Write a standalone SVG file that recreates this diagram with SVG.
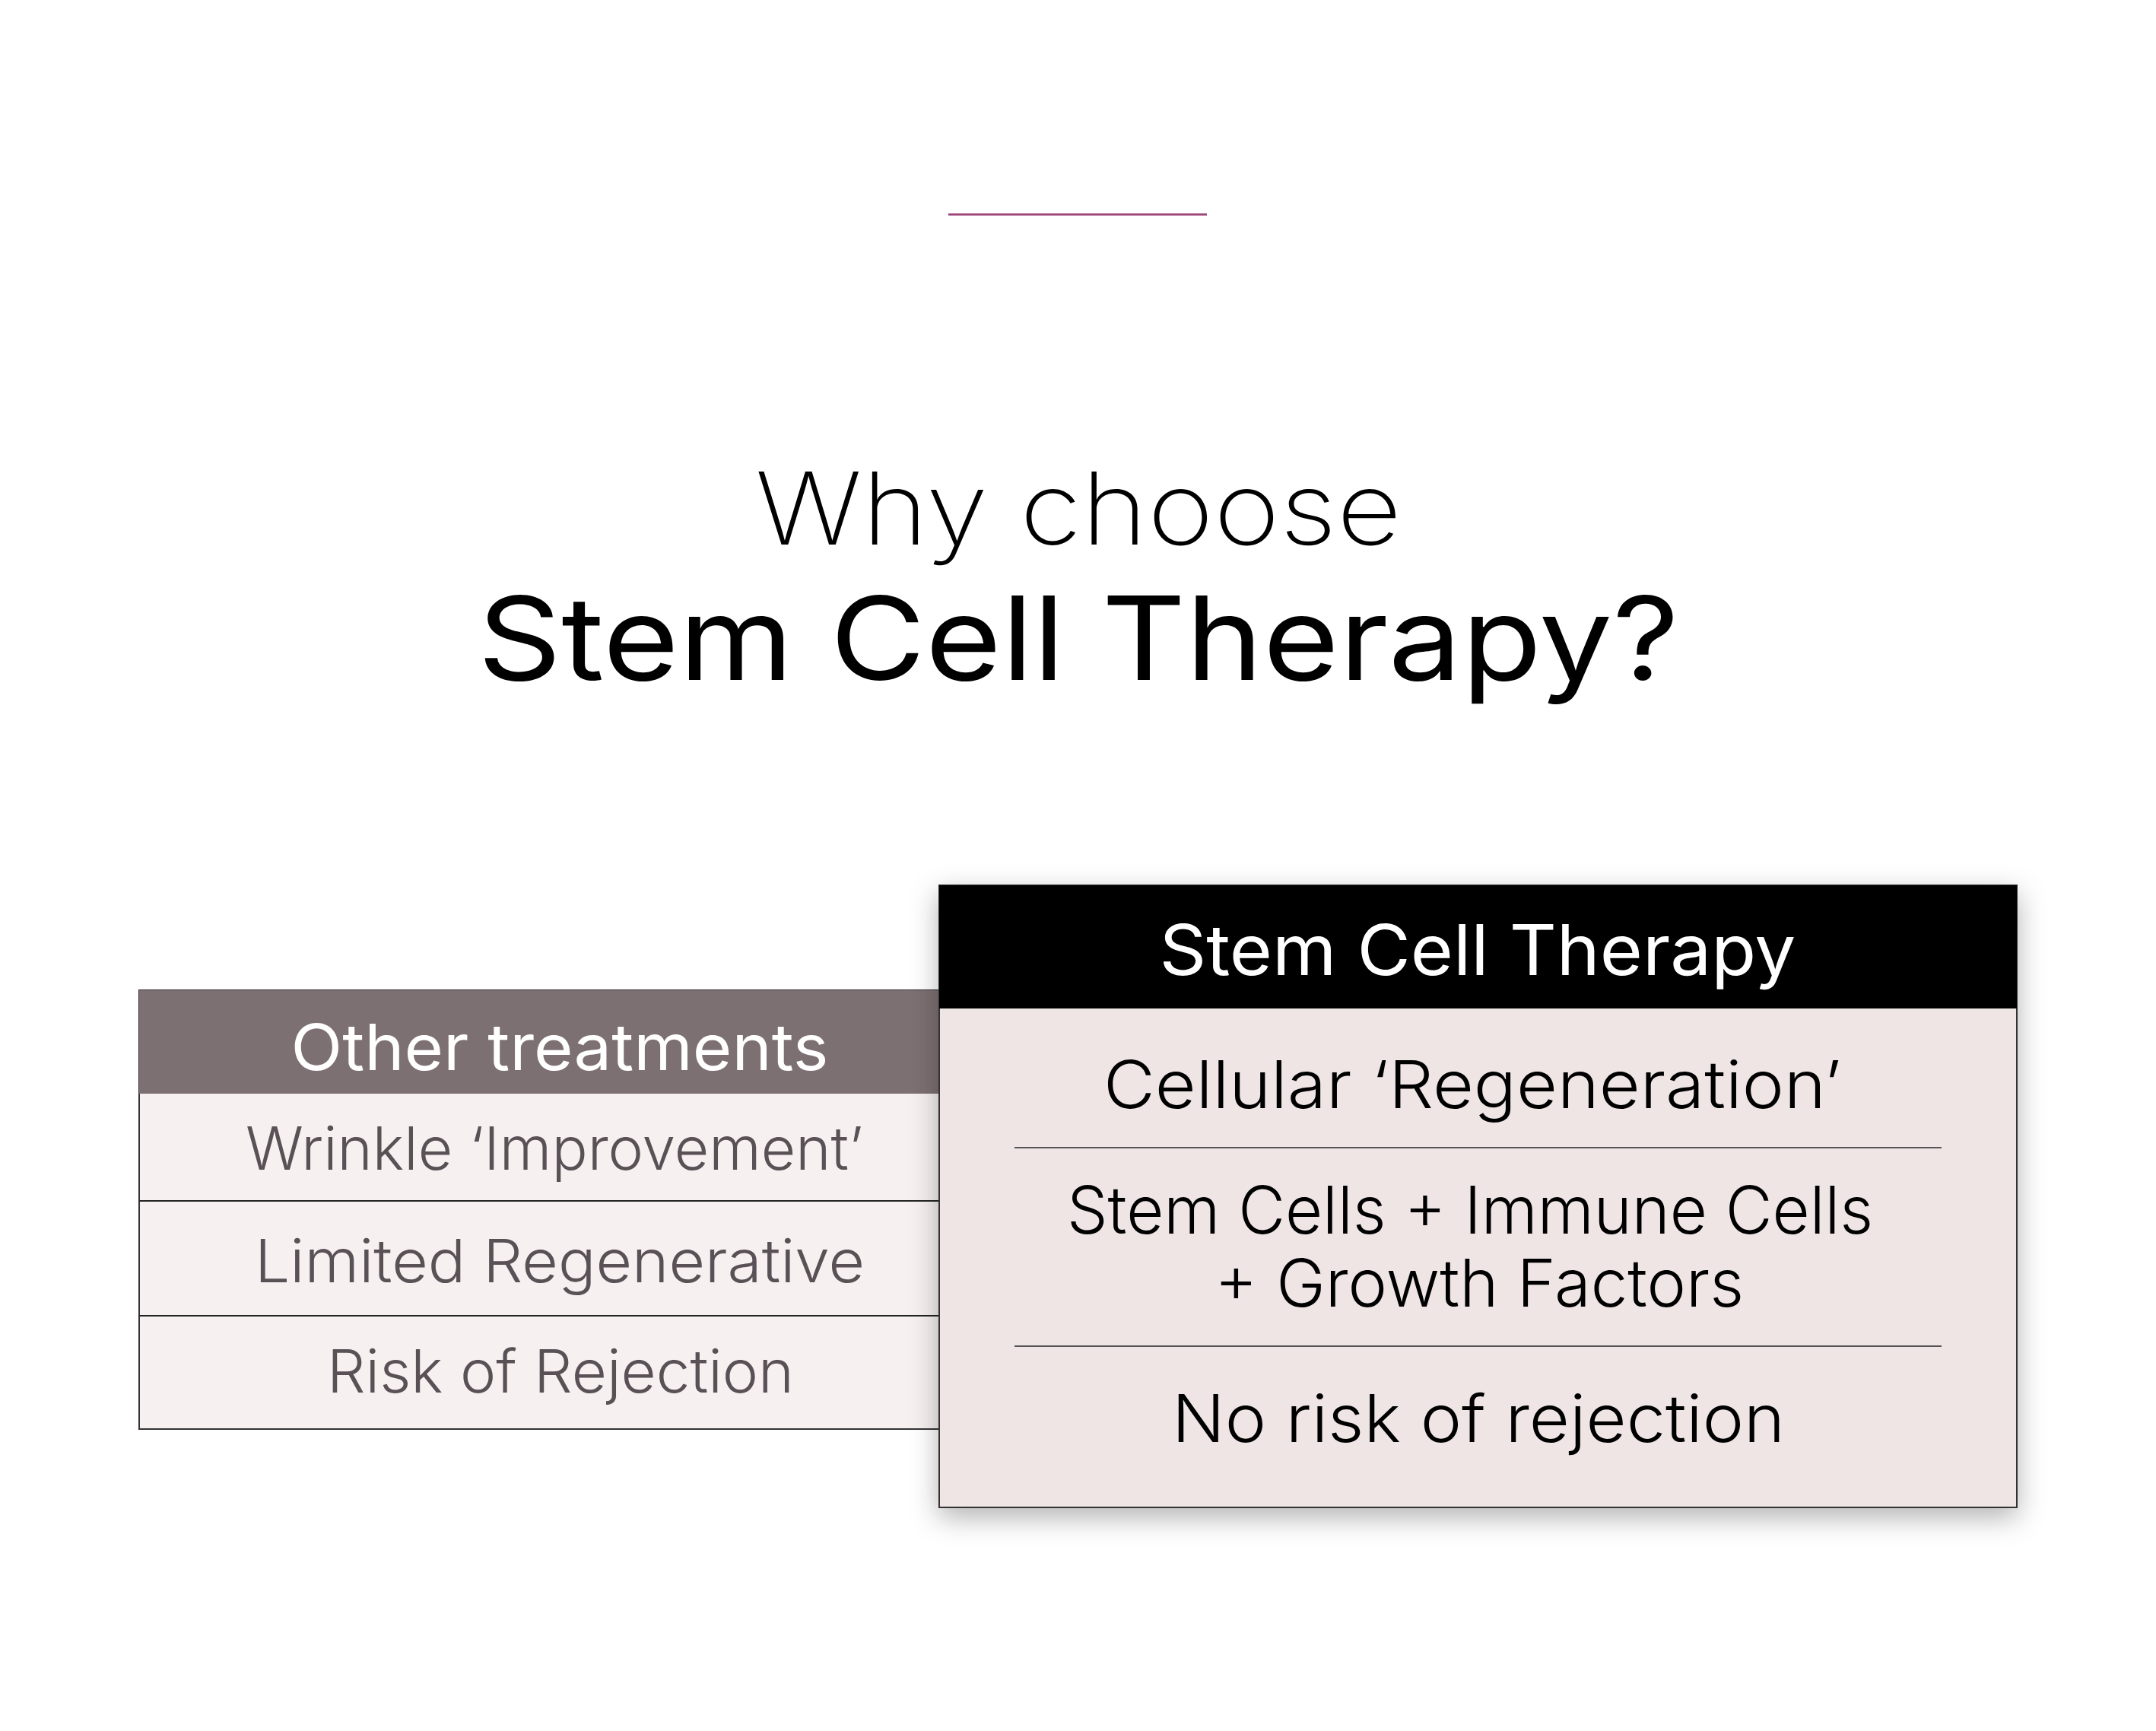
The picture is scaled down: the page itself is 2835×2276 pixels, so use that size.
<svg xmlns="http://www.w3.org/2000/svg" width="2835" height="2276" viewBox="0 0 2835 2276">
<style>
.t{font-family:Inter,"Noto Sans","Liberation Sans",sans-serif;text-anchor:middle}
.why{font-size:132px;font-weight:200;fill:#000}
.main{font-size:152px;font-weight:400;fill:#000}
.hw{font-size:92px;font-weight:400;fill:#fff}
.ho{font-size:84px;font-weight:400;fill:#fff}
.lr{font-size:78px;font-weight:300;fill:#5a5157}
.rr{font-size:86px;font-weight:300;fill:#000}
</style>
<defs>
<filter id="sh" x="-10%" y="-10%" width="120%" height="125%">
<feDropShadow dx="0" dy="12" stdDeviation="18" flood-color="#000" flood-opacity="0.3"/>
</filter>
</defs>
<rect width="2835" height="2276" fill="#fff"/>
<line x1="1247" y1="282" x2="1587" y2="282" stroke="#9e4679" stroke-width="3"/>
<g id="title">
<text class="t why" x="1418" y="716" textLength="850" lengthAdjust="spacingAndGlyphs">Why choose</text>
<text class="t main" x="1418" y="894" textLength="1580" lengthAdjust="spacingAndGlyphs">Stem Cell Therapy?</text>
</g>
<g id="other">
<rect x="183" y="1302" width="1052" height="577" fill="#f6f0f0" stroke="#333" stroke-width="2"/>
<rect x="183" y="1302" width="1052" height="136" fill="#7d7073"/>
<line x1="183" y1="1579" x2="1235" y2="1579" stroke="#222" stroke-width="2"/>
<line x1="183" y1="1730" x2="1235" y2="1730" stroke="#222" stroke-width="2"/>
<text class="t ho" x="736" y="1407" textLength="707" lengthAdjust="spacingAndGlyphs">Other treatments</text>
<text class="t lr" x="729" y="1538" textLength="812" lengthAdjust="spacingAndGlyphs">Wrinkle ‘Improvement’</text>
<text class="t lr" x="736" y="1686" textLength="802" lengthAdjust="spacingAndGlyphs">Limited Regenerative</text>
<text class="t lr" x="737" y="1831" textLength="614" lengthAdjust="spacingAndGlyphs">Risk of Rejection</text>
</g>
<g id="stem">
<rect x="1235" y="1164" width="1417" height="818" fill="#efe5e5" stroke="#333" stroke-width="2" filter="url(#sh)"/>
<rect x="1235" y="1164" width="1417" height="162" fill="#000"/>
<line x1="1334" y1="1509" x2="2553" y2="1509" stroke="#555" stroke-width="2"/>
<line x1="1334" y1="1770" x2="2553" y2="1770" stroke="#555" stroke-width="2"/>
<text class="t hw" x="1943" y="1282" textLength="837" lengthAdjust="spacingAndGlyphs">Stem Cell Therapy</text>
<text class="t rr" x="1936" y="1457" textLength="970" lengthAdjust="spacingAndGlyphs">Cellular ‘Regeneration’</text>
<text class="t rr" x="1933" y="1622" textLength="1060" lengthAdjust="spacingAndGlyphs">Stem Cells + Immune Cells</text>
<text class="t rr" x="1945" y="1718" textLength="696" lengthAdjust="spacingAndGlyphs">+ Growth Factors</text>
<text class="t rr" x="1944" y="1896" textLength="806" lengthAdjust="spacingAndGlyphs">No risk of rejection</text>
</g>
</svg>
